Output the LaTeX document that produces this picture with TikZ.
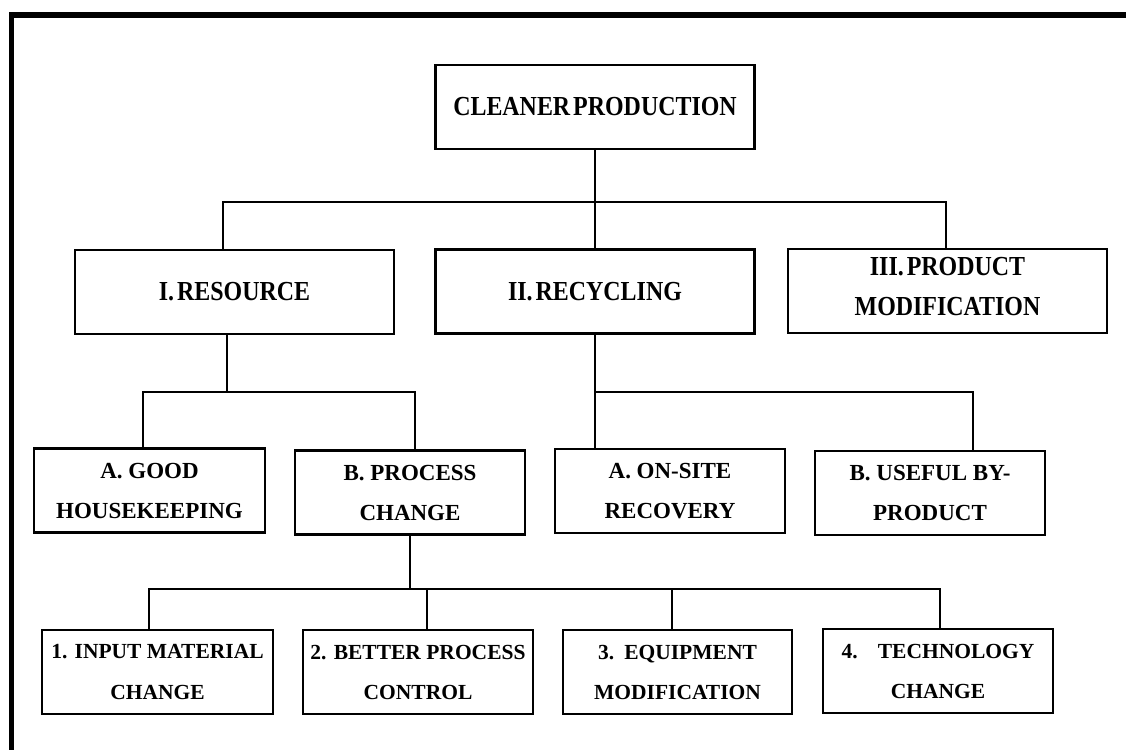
\documentclass[tikz,border=0pt]{standalone}
\usepackage{fontspec}
\setmainfont{Liberation Serif}
% narrow face for the two upper levels of the chart
\newfontfamily\condfont[FakeStretch=0.87,WordSpace=0.5]{Liberation Serif}
\begin{document}
\begin{tikzpicture}[x=1pt,y=-1pt,
  box/.style={draw, line width=2.4pt, minimum width=230pt, minimum height=84pt,
              inner sep=0pt, align=center},
  topbox/.style={box, minimum width=319pt,
                 font=\condfont\bfseries\fontsize{27.5}{40}\selectfont},
  midbox/.style={box, font=\bfseries\fontsize{23}{40}\selectfont},
  lowbox/.style={box, font=\bfseries\fontsize{21.5}{40}\selectfont},
  link/.style={line width=1.8pt},
  frame/.style={line width=5.5pt}]

\useasboundingbox (0,0) rectangle (1126,749);

% page frame (only its top and left sides fall inside the sheet)
\begin{scope}
  \clip (0,0) rectangle (1126,749);
  \draw[frame] (11.5,770) -- (11.5,15) -- (1150,15);
\end{scope}

% level 0
\node[topbox] (cp) at (595,107) {CLEANER PRODUCTION};

% level 1
\node[topbox] (res) at (234.5,292) {I. RESOURCE};
\node[topbox] (rec) at (595,291.5) {II. RECYCLING};
\node[topbox] (mod) at (947.5,291) {III. PRODUCT\\MODIFICATION\rule[-10pt]{0pt}{10pt}};

% level 2
\node[midbox, minimum width=231pt] (good) at (149.5,490.5) {A. GOOD\\HOUSEKEEPING};
\node[midbox] (proc) at (410,492.5) {B. PROCESS\\CHANGE};
\node[midbox] (site) at (670,491) {A. ON-SITE\\RECOVERY};
\node[midbox] (byp) at (930,493) {B. USEFUL BY-\\PRODUCT};

% level 3
\node[lowbox, minimum width=231pt] (inp) at (157.5,672) {1. INPUT MATERIAL\\CHANGE};
\node[lowbox] (ctl) at (418,672) {2. BETTER PROCESS\\CONTROL};
\node[lowbox, minimum width=229pt] (eqp) at (677.5,672) {3.\hspace{10pt}EQUIPMENT\\MODIFICATION};
\node[lowbox] (tec) at (938,671) {4.\hspace{20pt}TECHNOLOGY\\CHANGE};

% bus points
\coordinate (busL) at (223,202);
\coordinate (busR) at (946,202);
\coordinate (resJ) at (227,392);
\coordinate (goodJ) at (143,392);
\coordinate (procJ) at (415,392);
\coordinate (bypJ) at (973,392);
\coordinate (inpJ) at (149,589);
\coordinate (ctlJ) at (427,589);
\coordinate (eqpJ) at (672,589);
\coordinate (tecJ) at (940,589);

% level 0 -> level 1
\draw[link] (cp.south) -- (rec.north);
\draw[link] (res.north -| busL) -- (busL) -- (busR) -- (mod.north -| busR);

% resource branch
\draw[link] (res.south -| resJ) -- (resJ);
\draw[link] (good.north -| goodJ) -- (goodJ) -- (procJ) -- (proc.north -| procJ);

% recycling branch
\draw[link] (rec.south) -- (site.north -| rec.south);
\draw[link] (rec.south |- bypJ) -- (bypJ) -- (byp.north -| bypJ);

% process change branch
\draw[link] (proc.south) -- (proc.south |- inpJ);
\draw[link] (inp.north -| inpJ) -- (inpJ) -- (tecJ) -- (tec.north -| tecJ);
\draw[link] (ctlJ) -- (ctl.north -| ctlJ);
\draw[link] (eqpJ) -- (eqp.north -| eqpJ);
\end{tikzpicture}
\end{document}
